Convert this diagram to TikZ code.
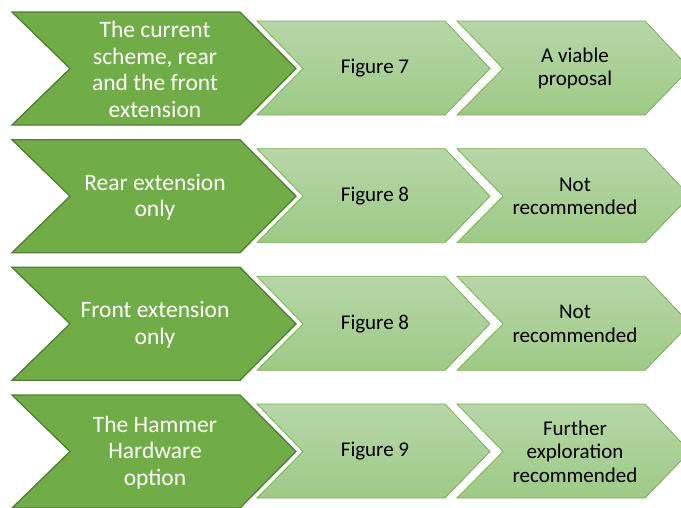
\documentclass[tikz,border=0pt]{standalone}
\usepackage{fontspec}
\setmainfont{Carlito}
\definecolor{dkg}{HTML}{70AD47}
\definecolor{dkgb}{HTML}{507E32}
\definecolor{ltop}{HTML}{B6D7A8}
\definecolor{lbot}{HTML}{9ECA85}
\definecolor{lbord}{HTML}{78B152}
\tikzset{
  bigchev/.style={fill=dkg, draw=dkgb, line width=1.3pt, line join=miter},
  smallchev/.style={top color=ltop, bottom color=lbot, draw=lbord, line width=0.8pt, line join=miter},
  wtext/.style={text=white, align=center, font=\fontsize{23.5}{26.6}\selectfont, inner sep=0pt},
  btext/.style={text=black, align=center, font=\fontsize{21}{23.4}\selectfont, inner sep=0pt}
}
\begin{document}
\begin{tikzpicture}[x=1pt,y=-1pt]
\useasboundingbox (0,0) rectangle (681,507);
\foreach \i/\bt/\mt/\rt in {
  0/{The current\\scheme, rear\\and the front\\extension}/{Figure 7}/{A viable\\proposal},
  1/{Rear extension\\only}/{Figure 8}/{Not\\recommended},
  2/{Front extension\\only}/{Figure 8}/{Not\\recommended},
  3/{The Hammer\\Hardware\\option}/{Figure 9}/{Further\\exploration\\recommended}}{
  \pgfmathsetmacro{\T}{12+127.67*\i}
  \pgfmathsetmacro{\M}{\T+56.5}
  \pgfmathsetmacro{\B}{\T+113}
  \pgfmathsetmacro{\sT}{\T+9}
  \pgfmathsetmacro{\sB}{\T+103}
  \path[bigchev] (12,\T) -- (240,\T) -- (296,\M) -- (240,\B) -- (12,\B) -- (70,\M) -- cycle;
  \path[smallchev] (257,\sT) -- (445,\sT) -- (490,\M) -- (445,\sB) -- (257,\sB) -- (303,\M) -- cycle;
  \path[smallchev] (457,\sT) -- (645,\sT) -- (690,\M) -- (645,\sB) -- (457,\sB) -- (503,\M) -- cycle;
  \node[wtext] (b\i) at (155,\M+1) {\bt};
  \node[btext] (m\i) at (375,\M) {\mt};
  \node[btext] (r\i) at (575,\M) {\rt};
}
\end{tikzpicture}
\end{document}
